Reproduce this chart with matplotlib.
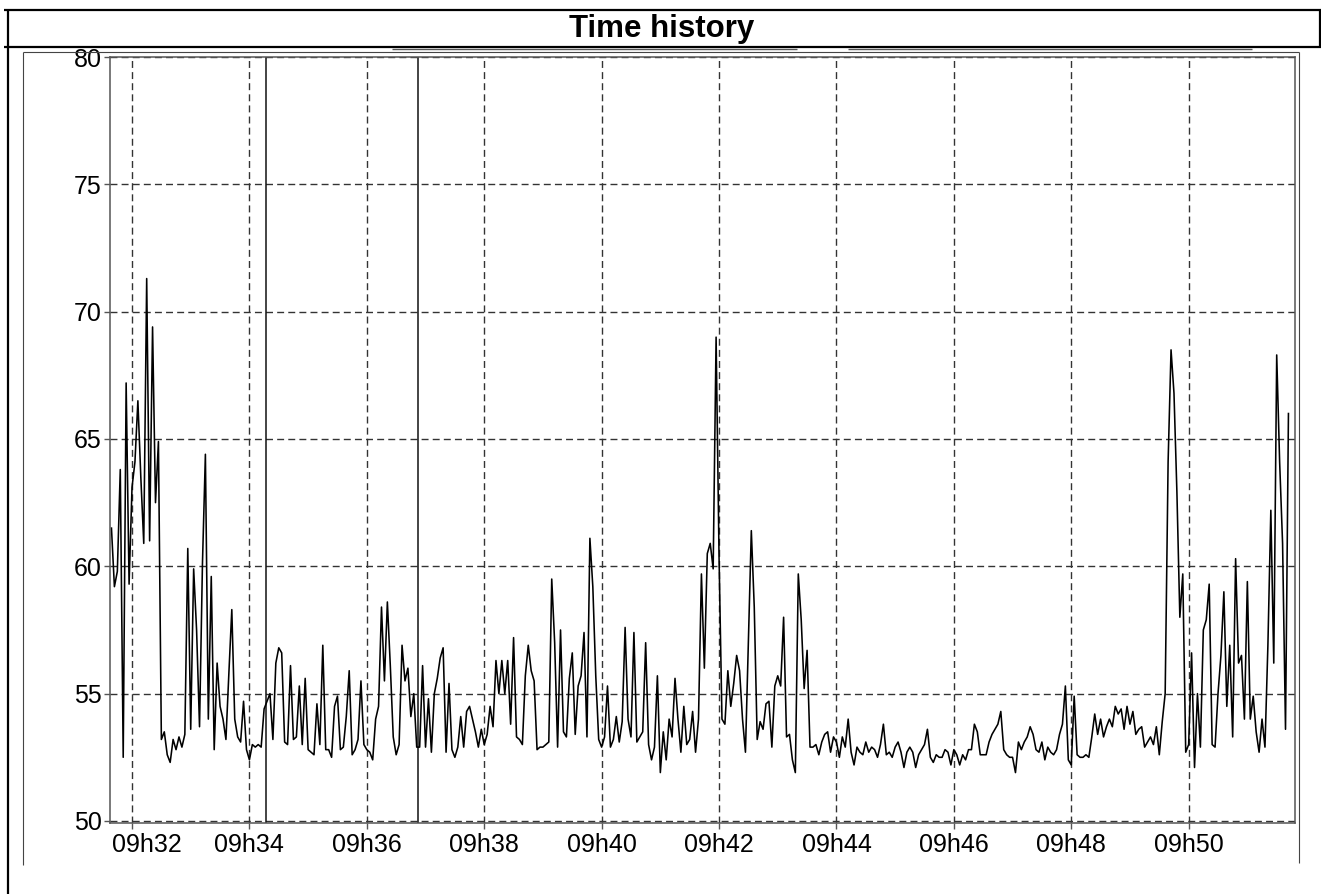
import numpy as np
import pandas as pd
import matplotlib
matplotlib.use('Agg')
import matplotlib.pyplot as plt
import matplotlib.dates as mdates
from matplotlib.lines import Line2D
from matplotlib.transforms import ScaledTranslation

plt.rcParams['font.family'] = ['Liberation Sans', 'DejaVu Sans']

# sound level readings, one every 3 s, grouped by 2-minute blocks
seg_0931 = [61.5, 59.2, 59.8, 63.8, 52.5, 67.2, 59.3, 63.1, 64.1, 66.5,
            63.5, 60.9, 71.3, 61.0, 69.4, 62.5, 64.9, 53.2, 53.5, 52.6,
            52.3, 53.2, 52.8, 53.3, 52.9, 53.4, 60.7, 53.6, 59.9, 57.5,
            53.7, 60.1, 64.4, 54.0, 59.6, 52.8, 56.2, 54.5, 54.0, 53.2,
            55.8, 58.3, 54.0, 53.3, 53.1, 54.7, 52.8]
seg_0934 = [52.4, 53.0, 52.9, 53.0, 52.9, 54.4, 54.7, 55.0, 53.2, 56.2,
            56.8, 56.6, 53.1, 53.0, 56.1, 53.2, 53.3, 55.3, 53.0, 55.6,
            52.8, 52.7, 52.6, 54.6, 53.0, 56.9, 52.8, 52.8, 52.5, 54.5,
            54.9, 52.8, 52.9, 54.1, 55.9, 52.6, 52.8, 53.2, 55.5, 53.0]
seg_0936 = [52.8, 52.7, 52.4, 54.0, 54.5, 58.4, 55.5, 58.6, 56.1, 53.3,
            52.6, 53.0, 56.9, 55.5, 56.0, 54.1, 55.0, 52.9, 52.9, 56.1,
            52.9, 54.8, 52.7, 55.0, 55.6, 56.4, 56.8, 52.7, 55.4, 52.8,
            52.5, 52.9, 54.1, 52.9, 54.3, 54.5, 54.0, 53.5, 52.9, 53.6]
seg_0938 = [53.0, 53.4, 54.5, 53.7, 56.3, 55.0, 56.3, 55.0, 56.3, 53.8,
            57.2, 53.3, 53.2, 53.0, 55.7, 56.9, 55.9, 55.5, 52.8, 52.9,
            52.9, 53.0, 53.1, 59.5, 57.0, 52.9, 57.5, 53.5, 53.3, 55.6,
            56.6, 53.4, 55.3, 55.7, 57.4, 53.3, 61.1, 59.2, 55.7, 53.2]
seg_0940 = [52.9, 53.3, 55.3, 52.9, 53.2, 54.1, 53.1, 53.9, 57.6, 54.0,
            53.3, 57.4, 53.1, 53.3, 53.5, 57.0, 53.0, 52.4, 52.9, 55.7,
            51.9, 53.5, 52.4, 54.0, 53.3, 55.6, 54.0, 52.7, 54.5, 53.0,
            53.2, 54.3, 52.7, 54.0, 59.7, 56.0, 60.5, 60.9, 59.9, 69.0]
seg_0942 = [60.4, 54.0, 53.8, 55.9, 54.5, 55.4, 56.5, 55.9, 54.0, 52.7,
            57.0, 61.4, 58.4, 53.2, 53.9, 53.6, 54.6, 54.7, 52.9, 55.3,
            55.7, 55.3, 58.0, 53.3, 53.4, 52.4, 51.9, 59.7, 57.9, 55.2,
            56.7, 52.9, 52.9, 53.0, 52.6, 53.1, 53.4, 53.5, 52.7, 53.3]
seg_0944 = [53.1, 52.5, 53.3, 52.9, 54.0, 52.7, 52.2, 52.9, 52.7, 52.6,
            53.1, 52.7, 52.9, 52.8, 52.5, 53.0, 53.8, 52.6, 52.7, 52.5,
            52.9, 53.1, 52.7, 52.1, 52.7, 52.9, 52.7, 52.1, 52.6, 52.8,
            53.0, 53.6, 52.5, 52.3, 52.6, 52.5, 52.5, 52.8, 52.7, 52.2]
seg_0946 = [52.8, 52.6, 52.2, 52.6, 52.4, 52.8, 52.8, 53.8, 53.5, 52.6,
            52.6, 52.6, 53.1, 53.4, 53.6, 53.8, 54.3, 52.8, 52.6, 52.5,
            52.5, 51.9, 53.1, 52.8, 53.1, 53.3, 53.7, 53.4, 52.8, 52.7,
            53.1, 52.4, 52.9, 52.7, 52.6, 52.8, 53.4, 53.8, 55.3, 52.4]
seg_0948 = [52.2, 54.9, 52.6, 52.5, 52.5, 52.6, 52.5, 53.3, 54.2, 53.4,
            54.0, 53.3, 53.7, 54.0, 53.7, 54.5, 54.2, 54.4, 53.6, 54.5,
            53.8, 54.3, 53.4, 53.6, 53.7, 52.9, 53.1, 53.3, 53.0, 53.7,
            52.6, 53.9, 55.0, 64.1, 68.5, 66.8, 62.9, 58.0, 59.7, 52.7]
seg_0950 = [53.0, 56.6, 52.1, 55.0, 52.9, 57.5, 57.9, 59.3, 53.0, 52.9,
            55.0, 56.5, 59.0, 54.5, 56.9, 53.3, 60.3, 56.2, 56.5, 54.0,
            59.4, 54.0, 54.9, 53.5, 52.7, 54.0, 52.9, 56.9, 62.2, 56.2,
            68.3, 64.1, 60.9, 53.6, 66.0]

start_time = '2000-01-01 09:31:39'
sample_step = '3s'
markers = ['2000-01-01 09:34:17', '2000-01-01 09:36:52']
y_ticks = [50, 55, 60, 65, 70, 75, 80]
x_ticks = pd.date_range('2000-01-01 09:32', '2000-01-01 09:50', freq='2min')
x_start, x_end = '2000-01-01 09:31:37.5', '2000-01-01 09:51:48.7'

levels = np.concatenate([seg_0931, seg_0934, seg_0936, seg_0938, seg_0940,
                         seg_0942, seg_0944, seg_0946, seg_0948, seg_0950])
times = pd.date_range(start_time, periods=len(levels), freq=sample_step)

W, H = 1321, 894
fig = plt.figure(figsize=(W / 100, H / 100), dpi=100)
fig.patch.set_facecolor('white')


def px_line(x1, y1, x2, y2, lw=1.0, color='black'):
    fig.add_artist(Line2D([x1 / W, x2 / W], [1 - y1 / H, 1 - y2 / H],
                          transform=fig.transFigure, lw=lw, color=color,
                          solid_capstyle='butt'))


# outer frame and title band
px_line(4, 10, 1321, 10, lw=1.6)
px_line(8, 10, 8, 894, lw=1.6)
px_line(4, 46.5, 1321, 46.5, lw=1.6)
px_line(1319.5, 10, 1319.5, 46.5, lw=1.6)
# inner box
px_line(22.5, 51.5, 1299, 51.5, lw=0.8, color='#444')
px_line(22.5, 51.5, 22.5, 865, lw=0.8, color='#444')
px_line(1299, 51.5, 1299, 863, lw=0.8, color='#444')
px_line(392, 49, 797, 49, lw=1.0, color='#555')
px_line(848, 49, 1252, 49, lw=1.0, color='#555')

fig.text(662 / W, 1 - 29 / H, 'Time history', ha='center', va='center',
         fontsize=22.5, fontweight='bold')

ax = fig.add_axes([110 / W, 1 - 823 / H, (1295 - 110) / W, (823 - 57) / H])
ax.plot(times, levels, color='black', lw=1.15, zorder=3)
for m in markers:
    ax.axvline(pd.Timestamp(m), color='#111', lw=1.1, zorder=2)

ax.set_xlim(pd.Timestamp(x_start), pd.Timestamp(x_end))
ax.set_ylim(49.92, 80.0)
ax.set_yticks(y_ticks)
ax.set_xticks(x_ticks)
ax.xaxis.set_major_formatter(mdates.DateFormatter('%Hh%M'))
ax.grid(True, color='#333', ls=(0, (5, 3)), lw=1.0)
ax.tick_params(direction='out', length=4, width=1, colors='#555',
               labelcolor='black', labelsize=18, pad=2)
ax.tick_params(axis='x', pad=3)
for s in ax.spines.values():
    s.set_color('#555')
    s.set_linewidth(1.1)
    s.set_zorder(4)

# first time label is kept inside the plot area, as in the source software
first = ax.get_xticklabels()[0]
first.set_transform(first.get_transform() +
                    ScaledTranslation(0.15, 0, fig.dpi_scale_trans))

fig.savefig('out.png', dpi=100, facecolor='white')
